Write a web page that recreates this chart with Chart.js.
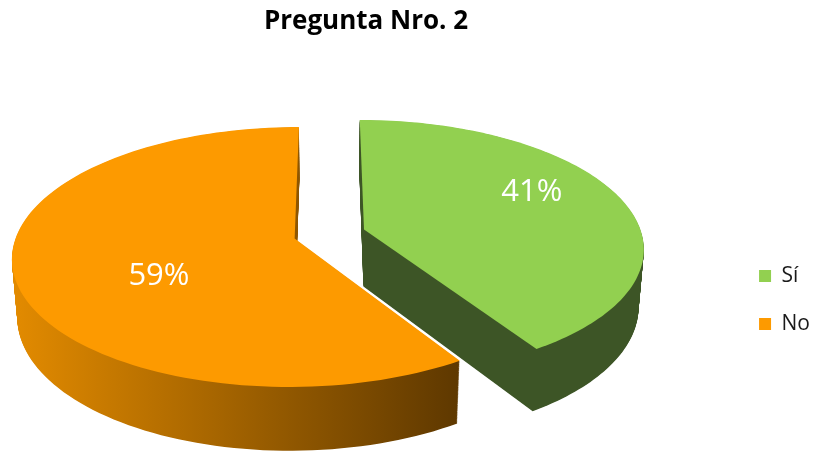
<!DOCTYPE html>
<html>
<head>
<meta charset="utf-8">
<script src="https://cdn.jsdelivr.net/npm/chart.js@4.4.0/dist/chart.umd.min.js"></script>
<style>
    html, body { margin: 0; padding: 0; background: #fff; }
    #wrap { width: 820px; height: 453px; }
</style>
</head>
<body>
<div id="wrap"><canvas id="pieChart"></canvas></div>
<script>
const categories = ['Sí', 'No'];
const values = [41, 59];
const topColors = ['#92d050', '#fd9a00'];
const sideColors = [['#3d5526', '#3d5526'], ['#e38b00', '#5e3800']];

// 3D view of the pie: tilted disc seen in perspective, slices exploded and extruded
const VIEW = { cx: 329.5, cy: 234, focal: 1761, dist: 6.34, tilt: 27, depth: 0.235, explode: 0.13 };
const LABEL = { rx: 158, ry: 135, dx: 16 };

const project = (u, v, h) => {
    const t = VIEW.tilt * Math.PI / 180;
    const yc = v * Math.sin(t) - h * Math.cos(t);
    const zc = VIEW.dist - v * Math.cos(t) - h * Math.sin(t);
    return { x: VIEW.cx + VIEW.focal * u / zc, y: VIEW.cy + VIEW.focal * yc / zc };
};

// angles come from the pie's arc elements, radius is the unit of the disc
const slicePath = (ctx, arc, h) => {
    const mid = (arc.startAngle + arc.endAngle) / 2;
    const ox = Math.cos(mid) * VIEW.explode;
    const oy = Math.sin(mid) * VIEW.explode;
    const steps = 120;
    let p = project(ox, oy, h);
    ctx.beginPath();
    ctx.moveTo(p.x, p.y);
    for (let k = 0; k <= steps; k++) {
        const a = arc.startAngle + (arc.endAngle - arc.startAngle) * k / steps;
        p = project(ox + Math.cos(a), oy + Math.sin(a), h);
        ctx.lineTo(p.x, p.y);
    }
    ctx.closePath();
};

const sliceBounds = (arc) => {
    const mid = (arc.startAngle + arc.endAngle) / 2;
    const ox = Math.cos(mid) * VIEW.explode;
    const oy = Math.sin(mid) * VIEW.explode;
    let minX = Infinity, maxX = -Infinity;
    for (let k = 0; k <= 60; k++) {
        const a = arc.startAngle + (arc.endAngle - arc.startAngle) * k / 60;
        const p = project(ox + Math.cos(a), oy + Math.sin(a), 0);
        minX = Math.min(minX, p.x);
        maxX = Math.max(maxX, p.x);
    }
    return { minX, maxX };
};

const pie3d = {
    id: 'pie3d',
    beforeDatasetDraw(chart, args) {
        const ctx = chart.ctx;
        const arcs = args.meta.data;

        // sides: sweep the slice from the bottom up to the top
        arcs.forEach((arc, i) => {
            const b = sliceBounds(arc);
            const grad = ctx.createLinearGradient(b.minX, 0, b.maxX, 0);
            grad.addColorStop(0, sideColors[i][0]);
            grad.addColorStop(1, sideColors[i][1]);
            ctx.fillStyle = grad;
            const levels = 80;
            for (let k = 0; k < levels; k++) {
                slicePath(ctx, arc, -VIEW.depth + VIEW.depth * k / levels);
                ctx.fill();
            }
        });

        // top faces
        arcs.forEach(arc => {
            ctx.fillStyle = arc.options.backgroundColor;
            slicePath(ctx, arc, 0);
            ctx.fill();
        });
        return false;
    },
    afterDatasetsDraw(chart) {
        const ctx = chart.ctx;
        const arcs = chart.getDatasetMeta(0).data;
        const total = values.reduce((a, b) => a + b, 0);
        ctx.save();
        ctx.font = '31px "Open Sans"';
        ctx.fillStyle = '#fff';
        ctx.textAlign = 'center';
        ctx.textBaseline = 'middle';
        arcs.forEach((arc, i) => {
            const mid = (arc.startAngle + arc.endAngle) / 2;
            const apex = project(Math.cos(mid) * VIEW.explode, Math.sin(mid) * VIEW.explode, 0);
            const text = Math.round(values[i] / total * 100) + '%';
            ctx.fillText(text, apex.x + Math.cos(mid) * LABEL.rx + LABEL.dx, apex.y + Math.sin(mid) * LABEL.ry);
        });
        ctx.restore();
    }
};

Chart.defaults.font.family = "'Open Sans', sans-serif";
Chart.defaults.color = '#1a1a1a';

new Chart(document.getElementById('pieChart'), {
    type: 'pie',
    data: {
        labels: categories,
        datasets: [{
            data: values,
            backgroundColor: topColors,
            borderWidth: 0,
        }]
    },
    options: {
        responsive: true,
        maintainAspectRatio: false,
        animation: false,
        events: [],
        plugins: {
            title: {
                display: true,
                text: 'Pregunta Nro. 2',
                color: '#000',
                fullSize: false,
                font: { size: 26, weight: 'bold' },
                padding: { top: 6, bottom: 110 }
            },
            legend: {
                position: 'right',
                fullSize: false,
                labels: {
                    boxWidth: 12,
                    boxHeight: 12,
                    padding: 27,
                    font: { size: 21 }
                }
            },
            tooltip: { enabled: false }
        }
    },
    plugins: [pie3d]
});
</script>
</body>
</html>
